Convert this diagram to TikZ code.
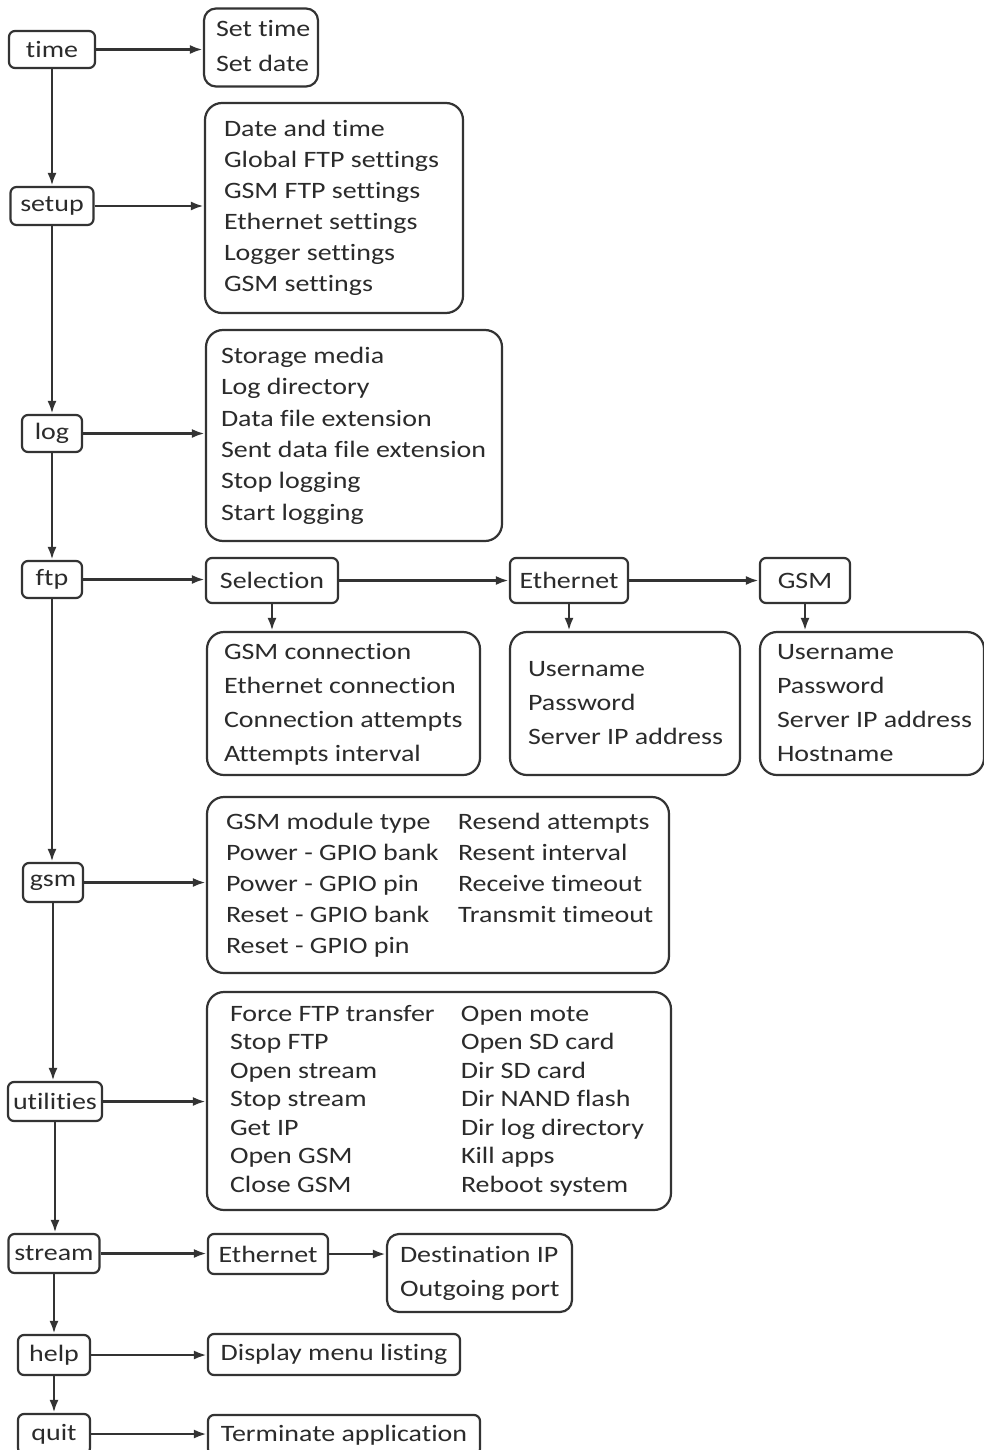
\documentclass[tikz,border=0pt]{standalone}
\usepackage{fontspec}
\setmainfont{Carlito}[FakeStretch=1.19, Ligatures=CommonOff]
\usetikzlibrary{arrows.meta}
\definecolor{ink}{HTML}{333333}
\definecolor{txt}{HTML}{2B2B2B}
% a left-aligned column of entries set in a box of fixed width
\newcommand{\menulist}[2]{\makebox[#1][l]{\begin{tabular}{@{}l@{}}#2\end{tabular}}}
% two left-aligned columns, the first of fixed width
\newcommand{\menupair}[3]{\makebox[#1][l]{\begin{tabular}{@{}p{#2}@{}l@{}}#3\end{tabular}}}
\begin{document}
\begin{tikzpicture}[x=1pt,y=-1pt,
  every node/.style={text=txt},
  menubox/.style={draw=ink, line width=2.2pt, rounded corners=6pt, inner sep=0pt,
    font=\fontsize{23.5pt}{31pt}\selectfont},
  listbox/.style={draw=ink, line width=2.2pt, rounded corners=17pt, inner ysep=0pt},
  lsp/.style={font=\fontsize{23.5pt}{#1}\selectfont},
  link/.style={draw=ink, line width=2.6pt, -{Latex[length=13pt,width=9pt]}}
]
\useasboundingbox (0,0) rectangle (984,1450);
\fill[white] (0,0) rectangle (984,1450);

% main menu column
\node[menubox, minimum width=86pt, minimum height=37pt] (time) at (52,49.5) {time};
\node[menubox, minimum width=83pt, minimum height=38pt] (setup) at (52,206) {setup};
\node[menubox, minimum width=60pt, minimum height=37pt] (log) at (52,433.5) {log};
\node[menubox, minimum width=60pt, minimum height=37pt] (ftp) at (52,579.5) {ftp};
\node[menubox, minimum width=60pt, minimum height=39pt] (gsm) at (53,882.5) {gsm};
\node[menubox, minimum width=94pt, minimum height=39pt] (util) at (55,1101.5) {utilities};
\node[menubox, minimum width=91pt, minimum height=39pt] (stream) at (54,1253.5) {stream};
\node[menubox, minimum width=72pt, minimum height=40pt] (help) at (54,1355) {help};
\node[menubox, minimum width=72pt, minimum height=40pt] (quit) at (54,1434) {quit};

% submenus
\node[listbox, lsp=35pt, rounded corners=12pt, minimum height=78pt, inner xsep=12pt]
  (timeL) at (261,47.5) {\menulist{90pt}{Set time\\Set date}};

\node[listbox, lsp=31pt, minimum height=210pt, inner xsep=19pt]
  (setupL) at (334,208) {\menulist{220pt}{Date and time\\Global FTP settings\\GSM FTP settings\\Ethernet settings\\Logger settings\\GSM settings}};

\node[listbox, lsp=31.4pt, minimum height=211pt, inner xsep=15pt]
  (logL) at (354,435.5) {\menulist{266pt}{Storage media\\Log directory\\Data file extension\\Sent data file extension\\Stop logging\\Start logging}};

\node[menubox, minimum width=132pt, minimum height=45pt] (sel) at (272,580.5) {Selection};
\node[menubox, minimum width=118pt, minimum height=45pt] (eth) at (569,580.5) {Ethernet};
\node[menubox, minimum width=90pt, minimum height=45pt] (gsmft) at (805,580.5) {GSM};

\node[listbox, lsp=34pt, minimum height=143pt, inner xsep=17pt]
  (selL) at (343.5,703.5) {\menulist{239pt}{GSM connection\\Ethernet connection\\Connection attempts\\Attempts interval}};
\node[listbox, lsp=34pt, minimum height=143pt, inner xsep=18pt]
  (ethL) at (625,703.5) {\menulist{194pt}{Username\\Password\\Server IP address}};
\node[listbox, lsp=34pt, minimum height=143pt, inner xsep=17pt]
  (gsmftL) at (872,703.5) {\menulist{190pt}{Username\\Password\\Server IP address\\Hostname}};

\node[listbox, lsp=31pt, minimum height=176pt, inner xsep=19pt]
  (gsmL) at (438,885) {\menupair{424pt}{232pt}{
    GSM module type & Resend attempts\\
    Power - GPIO bank & Resent interval\\
    Power - GPIO pin & Receive timeout\\
    Reset - GPIO bank & Transmit timeout\\
    Reset - GPIO pin &}};

\node[listbox, lsp=28.5pt, minimum height=218pt, inner xsep=23pt]
  (utilL) at (439,1101) {\menupair{418pt}{231pt}{
    Force FTP transfer & Open mote\\
    Stop FTP & Open SD card\\
    Open stream & Dir SD card\\
    Stop stream & Dir NAND flash\\
    Get IP & Dir log directory\\
    Open GSM & Kill apps\\
    Close GSM & Reboot system}};

\node[menubox, minimum width=120pt, minimum height=40pt] (seth) at (268,1254) {Ethernet};
\node[listbox, lsp=34pt, rounded corners=12pt, minimum height=78pt, inner xsep=13pt]
  (destL) at (479.5,1273) {\menulist{159pt}{Destination IP\\Outgoing port}};

\node[menubox, minimum width=252pt, minimum height=41pt] (disp) at (334,1354.5) {Display menu listing};
\node[menubox, minimum width=272pt, minimum height=40pt] (term) at (344,1435) {Terminate application};

% main column links
\draw[link] (time.south) -- (time.south |- setup.north);
\draw[link] (setup.south) -- (setup.south |- log.north);
\draw[link] (log.south) -- (log.south |- ftp.north);
\draw[link] (ftp.south) -- (ftp.south |- gsm.north);
\draw[link] (gsm.south) -- (gsm.south |- util.north);
\draw[link] (util.south) -- (util.south |- stream.north);
\draw[link] (stream.south) -- (stream.south |- help.north);
\draw[link] (help.south) -- (help.south |- quit.north);

% links into submenus
\draw[link] (time.east) -- (time.east -| timeL.west);
\draw[link] (setup.east) -- (setup.east -| setupL.west);
\draw[link] (log.east) -- (log.east -| logL.west);
\draw[link] (ftp.east) -- (ftp.east -| sel.west);
\draw[link] (sel.east) -- (sel.east -| eth.west);
\draw[link] (eth.east) -- (eth.east -| gsmft.west);
\draw[link] (sel.south) -- (sel.south |- selL.north);
\draw[link] (eth.south) -- (eth.south |- ethL.north);
\draw[link] (gsmft.south) -- (gsmft.south |- gsmftL.north);
\draw[link] (gsm.east) -- (gsm.east -| gsmL.west);
\draw[link] (util.east) -- (util.east -| utilL.west);
\draw[link] (stream.east) -- (stream.east -| seth.west);
\draw[link] (seth.east) -- (seth.east -| destL.west);
\draw[link] (help.east) -- (help.east -| disp.west);
\draw[link] (quit.east) -- (quit.east -| term.west);
\end{tikzpicture}
\end{document}
